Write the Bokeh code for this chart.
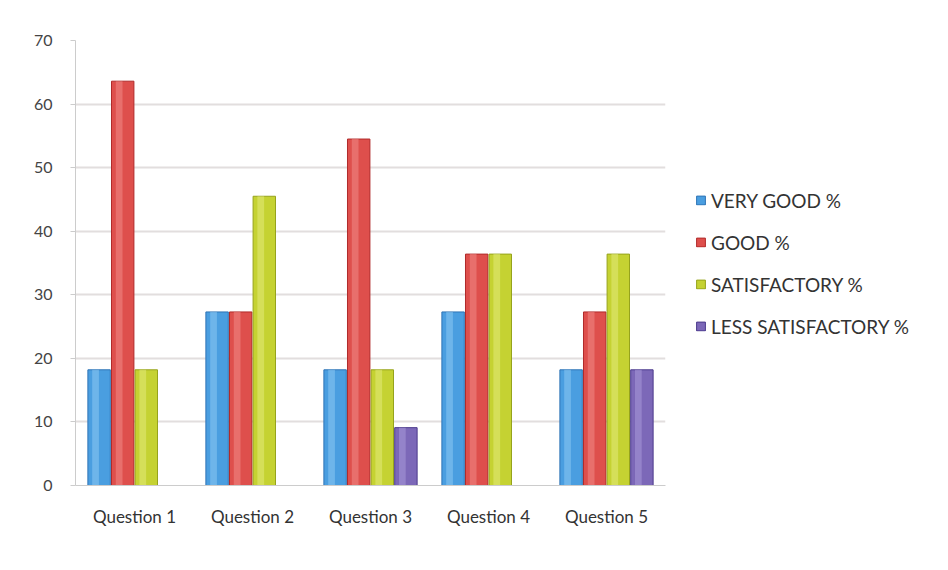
from bokeh.plotting import figure
from bokeh.models import ColumnDataSource, Legend, LegendItem, FactorRange
from bokeh.transform import dodge
from bokeh.embed import file_html
from bokeh.resources import INLINE

questions = ["Question 1", "Question 2", "Question 3", "Question 4", "Question 5"]
very_good = [18.2, 27.3, 18.2, 27.3, 18.2]
good = [63.6, 27.3, 54.5, 36.4, 27.3]
satisfactory = [18.2, 45.5, 18.2, 36.4, 36.4]
less_satisfactory = [0, 0, 9.1, 0, 18.2]
series_names = ["VERY GOOD %", "GOOD %", "SATISFACTORY %", "LESS SATISFACTORY %"]
y_ticks = [0, 10, 20, 30, 40, 50, 60, 70]

colors = ["#4a9ee0", "#de4f4c", "#c5d232", "#7c68b8"]
highlights = ["#8cc8f2", "#f08a86", "#e2ea7a", "#a899d8"]
edges = ["#2f74b5", "#b02a2a", "#96a31c", "#4b3a8c"]

src = ColumnDataSource(dict(q=questions, vg=very_good, g=good, s=satisfactory, ls=less_satisfactory))

p = figure(x_range=FactorRange(*questions), y_range=(0, 70),
           frame_width=590, frame_height=445,
           output_backend="svg", toolbar_location=None,
           min_border_left=75, min_border_top=40, min_border_bottom=50, min_border_right=0)
p.background_fill_color = "white"
p.outline_line_color = None

cols = ["vg", "g", "s", "ls"]
offsets = [-0.3, -0.1, 0.1, 0.3]
bw = 0.19
renderers = []
for c, off, col, hl, ed in zip(cols, offsets, colors, highlights, edges):
    r = p.vbar(x=dodge("q", off, range=p.x_range), top=c, width=bw, source=src,
               fill_color=col, line_color=ed, line_width=1)
    p.vbar(x=dodge("q", off - 0.03, range=p.x_range), top=c, width=bw * 0.3, source=src,
           fill_color=hl, fill_alpha=0.55, line_color=None)
    renderers.append(r)

legend = Legend(items=[LegendItem(label=n, renderers=[r]) for n, r in zip(series_names, renderers)],
                location="left", border_line_color=None, background_fill_alpha=0,
                label_text_font="Lato", label_text_font_size="19px", label_text_color="#333333",
                glyph_width=11, glyph_height=11, spacing=19, padding=5, margin=30)
p.add_layout(legend, "right")

p.yaxis.ticker = y_ticks
p.yaxis.major_label_text_font = "Lato"
p.yaxis.major_label_text_font_size = "16px"
p.yaxis.major_label_text_color = "#444444"
p.yaxis.axis_line_color = "#cccccc"
p.yaxis.major_tick_line_color = "#cccccc"
p.yaxis.major_tick_out = 5
p.yaxis.major_tick_in = 0
p.yaxis.minor_tick_line_color = None
p.yaxis.major_label_standoff = 18

p.xaxis.major_label_text_font = "Lato"
p.xaxis.major_label_text_font_size = "17px"
p.xaxis.major_label_text_color = "#333333"
p.xaxis.axis_line_color = "#cccccc"
p.xaxis.major_tick_line_color = None
p.xaxis.major_label_standoff = 14

p.xgrid.grid_line_color = None
p.ygrid.grid_line_color = "#e2dede"
p.ygrid.grid_line_width = 2

open("out.html", "w").write(file_html(p, INLINE))
